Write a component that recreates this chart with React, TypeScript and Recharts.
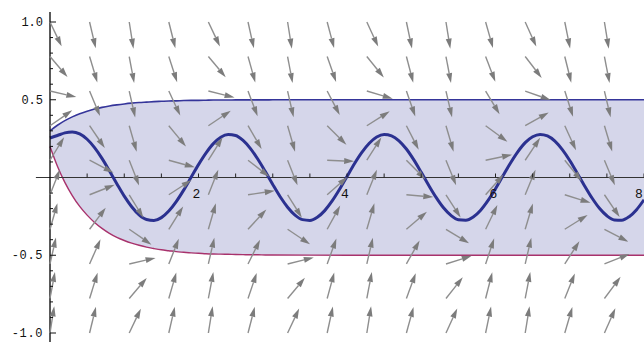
import { Area, ComposedChart, Line, ReferenceLine, Scatter, XAxis, YAxis } from 'recharts';

// solution curve, sampled every 0.1
const curveX = [
  0, 0.1, 0.2, 0.3, 0.4, 0.5, 0.6, 0.7, 0.8, 0.9, 1, 1.1, 1.2, 1.3, 1.4, 1.5, 1.6, 1.7, 1.8, 1.9,
  2, 2.1, 2.2, 2.3, 2.4, 2.5, 2.6, 2.7, 2.8, 2.9, 3, 3.1, 3.2, 3.3, 3.4, 3.5, 3.6, 3.7, 3.8, 3.9,
  4, 4.1, 4.2, 4.3, 4.4, 4.5, 4.6, 4.7, 4.8, 4.9, 5, 5.1, 5.2, 5.3, 5.4, 5.5, 5.6, 5.7, 5.8, 5.9,
  6, 6.1, 6.2, 6.3, 6.4, 6.5, 6.6, 6.7, 6.8, 6.9, 7, 7.1, 7.2, 7.3, 7.4, 7.5, 7.6, 7.7, 7.8, 7.9,
  8,
];
const curveY = [
  0.254, 0.27, 0.287, 0.293, 0.28, 0.246, 0.192, 0.123, 0.043, -0.04,
  -0.12, -0.188, -0.24, -0.27, -0.276, -0.258, -0.216, -0.155, -0.081, 0.001,
  0.083, 0.157, 0.218, 0.259, 0.276, 0.27, 0.238, 0.186, 0.117, 0.038,
  -0.045, -0.124, -0.191, -0.242, -0.271, -0.276, -0.256, -0.213, -0.151, -0.076,
  0.006, 0.088, 0.161, 0.22, 0.26, 0.277, 0.268, 0.236, 0.183, 0.113,
  0.033, -0.05, -0.128, -0.195, -0.244, -0.272, -0.275, -0.254, -0.21, -0.147,
  -0.072, 0.011, 0.092, 0.165, 0.224, 0.262, 0.277, 0.267, 0.234, 0.179,
  0.109, 0.028, -0.054, -0.132, -0.198, -0.246, -0.273, -0.275, -0.252, -0.207,
  -0.143,
];

// shaded funnel between the two fences
const bandX = [
  0, 0.1, 0.2, 0.3, 0.4, 0.5, 0.6, 0.7, 0.8, 0.9, 1, 1.1, 1.2, 1.3, 1.4, 1.5, 1.6, 1.7, 1.8, 1.9,
  2, 2.1, 2.2, 2.3, 2.4, 2.5, 2.6, 2.7, 2.8, 2.9, 3, 4, 5, 6, 7, 8,
];
const bandUpper = [
  0.3, 0.336, 0.366, 0.39, 0.41, 0.426, 0.44, 0.451, 0.46, 0.467, 0.473, 0.478, 0.482, 0.485,
  0.488, 0.49, 0.492, 0.493, 0.495, 0.496, 0.496, 0.497, 0.498, 0.498, 0.498, 0.499, 0.499,
  0.499, 0.499, 0.499, 0.5, 0.5, 0.5, 0.5, 0.5, 0.5,
];
const bandLower = [
  0.2, 0.073, -0.031, -0.116, -0.186, -0.242, -0.289, -0.327, -0.359, -0.385, -0.405, -0.422,
  -0.436, -0.448, -0.457, -0.465, -0.471, -0.477, -0.481, -0.485, -0.487, -0.49, -0.492, -0.493,
  -0.494, -0.495, -0.496, -0.497, -0.497, -0.498, -0.498, -0.5, -0.5, -0.5, -0.5, -0.5,
];

// direction field: arrow tails on a grid, slope dy/dx per arrow
const arrowX = [0, 0.533, 1.067, 1.6, 2.133, 2.667, 3.2, 3.733, 4.267, 4.8, 5.333, 5.867, 6.4, 6.933, 7.467];
const arrowY = [1, 0.778, 0.556, 0.333, 0.111, -0.111, -0.333, -0.556, -0.778, -1];
const arrowSlopes = [
  [-1.0, -2.03, -3.0, -1.91, -1.01, -2.15, -2.99, -1.8, -1.03, -2.26, -2.96, -1.68, -1.06, -2.37, -2.92],
  [-0.56, -1.59, -2.56, -1.47, -0.57, -1.71, -2.55, -1.36, -0.59, -1.82, -2.52, -1.24, -0.62, -1.93, -2.48],
  [-0.11, -1.14, -2.11, -1.02, -0.12, -1.26, -2.1, -0.91, -0.14, -1.37, -2.07, -0.79, -0.17, -1.48, -2.03],
  [0.33, -0.7, -1.67, -0.58, 0.32, -0.82, -1.66, -0.47, 0.3, -0.93, -1.63, -0.35, 0.27, -1.04, -1.59],
  [0.78, -0.25, -1.22, -0.13, 0.77, -0.37, -1.21, -0.02, 0.75, -0.48, -1.18, 0.1, 0.72, -0.59, -1.14],
  [1.22, 0.19, -0.78, 0.31, 1.21, 0.07, -0.77, 0.42, 1.19, -0.04, -0.74, 0.54, 1.16, -0.15, -0.7],
  [1.67, 0.64, -0.33, 0.76, 1.66, 0.52, -0.32, 0.87, 1.64, 0.41, -0.29, 0.99, 1.61, 0.3, -0.25],
  [2.11, 1.08, 0.11, 1.2, 2.1, 0.96, 0.12, 1.31, 2.08, 0.85, 0.15, 1.43, 2.05, 0.74, 0.19],
  [2.56, 1.53, 0.56, 1.65, 2.55, 1.41, 0.57, 1.76, 2.53, 1.3, 0.6, 1.88, 2.5, 1.19, 0.64],
  [3.0, 1.97, 1.0, 2.09, 2.99, 1.85, 1.01, 2.2, 2.97, 1.74, 1.04, 2.32, 2.94, 1.63, 1.08],
];

const xTicks = [0.5, 1, 1.5, 2, 2.5, 3, 3.5, 4, 4.5, 5, 5.5, 6, 6.5, 7, 7.5, 8];
const xTickLabels = [2, 4, 6, 8];
const yTicks = [
  -1, -0.9, -0.8, -0.7, -0.6, -0.5, -0.4, -0.3, -0.2, -0.1,
  0.1, 0.2, 0.3, 0.4, 0.5, 0.6, 0.7, 0.8, 0.9, 1,
];
const yTickLabels = [1, 0.5, -0.5, -1];

const W = 644;
const H = 342;
const MARGIN = { top: 22, right: 0, bottom: 9, left: 50 };
const X_DOMAIN: [number, number] = [0, 8];
const Y_DOMAIN: [number, number] = [-1, 1];
// pixels per data unit, used only to orient the arrows
const KX = (W - MARGIN.left - MARGIN.right) / (X_DOMAIN[1] - X_DOMAIN[0]);
const KY = (H - MARGIN.top - MARGIN.bottom) / (Y_DOMAIN[1] - Y_DOMAIN[0]);

const curveData = curveX.map((x, i) => ({ x, y: curveY[i] }));
const bandData = bandX.map((x, i) => ({
  x,
  upper: bandUpper[i],
  lower: bandLower[i],
  range: [bandLower[i], bandUpper[i]],
}));
const arrowData = arrowY.flatMap((y, r) => arrowX.map((x, c) => ({ x, y, s: arrowSlopes[r][c] })));
const xTickData = xTicks.map((x) => ({ x, y: 0 }));
const yTickData = yTicks.map((y) => ({ x: 0, y }));

const MONO = '"Liberation Mono", "DejaVu Sans Mono", monospace';

function Arrow(props: any) {
  const { cx, cy, payload } = props;
  const dx = KX;
  const dy = -KY * payload.s;
  const len = Math.hypot(dx, dy);
  const ux = dx / len;
  const uy = dy / len;
  const total = 27;
  const head = 10;
  const half = 3;
  const tx = cx + ux * total;
  const ty = cy + uy * total;
  const bx = tx - ux * head;
  const by = ty - uy * head;
  return (
    <g>
      <line x1={cx} y1={cy} x2={bx} y2={by} stroke='#8e8e8e' strokeWidth={1.4} />
      <polygon
        points={`${tx},${ty} ${bx - uy * half},${by + ux * half} ${bx + uy * half},${by - ux * half}`}
        fill='#7c7c7c'
      />
    </g>
  );
}

function XTick(props: any) {
  const { cx, cy, payload } = props;
  // keep the last label inside the picture
  const lx = Math.min(cx - 2, W - 5);
  return (
    <g>
      <line x1={cx} y1={cy} x2={cx} y2={cy - 4} stroke='#222' strokeWidth={1} />
      {xTickLabels.includes(payload.x) && (
        <text x={lx} y={cy + 20} textAnchor='middle' fontFamily={MONO} fontSize={13} fill='#111'>
          {payload.x}
        </text>
      )}
    </g>
  );
}

function YTick(props: any) {
  const { cx, cy, payload } = props;
  const major = yTickLabels.includes(payload.y);
  const label = payload.y < 0 ? `-${Math.abs(payload.y).toFixed(1)}` : payload.y.toFixed(1);
  return (
    <g>
      <line x1={cx} y1={cy} x2={cx + (major ? 6 : 3)} y2={cy} stroke='#111' strokeWidth={1} />
      {major && (
        <text
          x={cx - 7}
          y={cy + 4}
          textAnchor='end'
          fontFamily={MONO}
          fontSize={12}
          letterSpacing={payload.y < 0 ? 0.6 : 0}
          fill='#111'
        >
          {label}
        </text>
      )}
    </g>
  );
}

export default function App() {
  return (
    <div style={{ position: 'absolute', left: 0, top: 0, width: W, height: H, background: '#fff' }}>
      <ComposedChart width={W} height={H} margin={MARGIN}>
        <XAxis dataKey='x' type='number' domain={X_DOMAIN} hide />
        <YAxis type='number' domain={Y_DOMAIN} hide />

        <Area
          data={bandData}
          dataKey='range'
          type='monotone'
          fill='#d5d6ea'
          fillOpacity={1}
          stroke='none'
          isAnimationActive={false}
        />
        <Line data={bandData} dataKey='upper' type='monotone' stroke='#35359a' strokeWidth={1.6} dot={false} isAnimationActive={false} />
        <Line data={bandData} dataKey='lower' type='monotone' stroke='#a8326c' strokeWidth={1.4} dot={false} isAnimationActive={false} />

        <ReferenceLine
          segment={[{ x: -0.19, y: 0 }, { x: 8, y: 0 }]}
          stroke='#333'
          strokeWidth={1}
          ifOverflow='visible'
        />

        <Scatter data={arrowData} dataKey='y' shape={Arrow} isAnimationActive={false} />

        <Line data={curveData} dataKey='y' type='monotone' stroke='#2b3190' strokeWidth={3} dot={false} isAnimationActive={false} />

        <ReferenceLine
          segment={[{ x: 0, y: -1.06 }, { x: 0, y: 1.065 }]}
          stroke='#000'
          strokeWidth={1.3}
          ifOverflow='visible'
        />
        <Scatter data={xTickData} dataKey='y' shape={XTick} isAnimationActive={false} />
        <Scatter data={yTickData} dataKey='y' shape={YTick} isAnimationActive={false} />
      </ComposedChart>
    </div>
  );
}
